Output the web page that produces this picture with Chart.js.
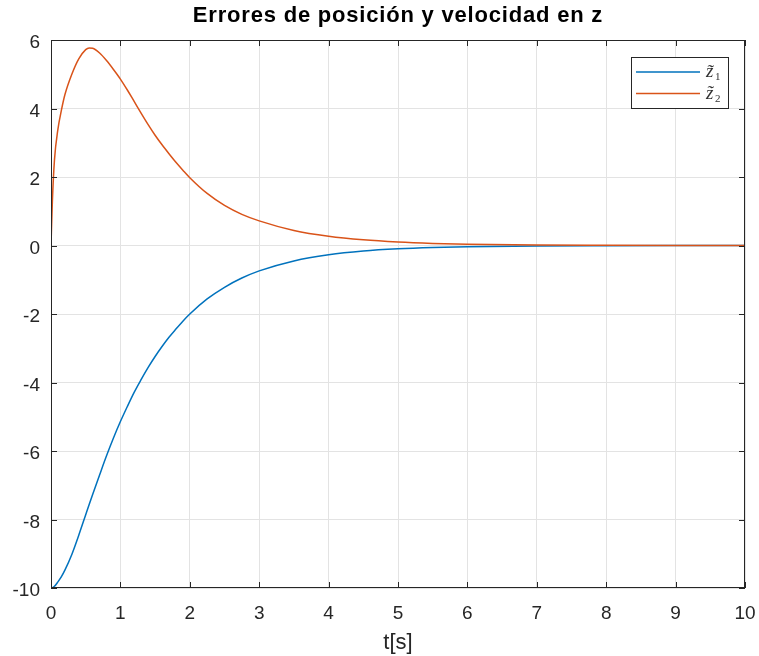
<!DOCTYPE html>
<html lang="es">
<head>
<meta charset="UTF-8">
<title>Errores de posición y velocidad en z</title>
<script src="https://cdn.jsdelivr.net/npm/chart.js"></script>
<style>
    html, body { margin: 0; padding: 0; background: #fff; }
    #wrap { width: 759px; height: 656px; }
</style>
</head>
<body>
<div id="wrap">
    <canvas id="errChart" width="759" height="656"></canvas>
</div>
<script>
// sampled simulation output
const tiempo = [0, 0.02, 0.05, 0.1, 0.15, 0.2, 0.3, 0.4, 0.5, 0.55, 0.6, 0.7, 0.8, 0.9, 1.0, 1.1, 1.2, 1.3, 1.4, 1.5,
    1.6, 1.7, 1.8, 1.9, 2.0, 2.25, 2.5, 2.75, 3, 3.5, 4, 4.5, 5, 5.5, 6, 7, 8, 9, 10];
const z1 = [-10, -9.99, -9.95, -9.82, -9.67, -9.48, -9.02, -8.46, -7.86, -7.56, -7.27, -6.70, -6.14, -5.62, -5.14, -4.70, -4.28, -3.91, -3.56, -3.24,
    -2.95, -2.68, -2.44, -2.21, -2.00, -1.56, -1.22, -0.95, -0.74, -0.45, -0.27, -0.16, -0.095, -0.056, -0.033, -0.012, -0.004, -0.0015, -0.0005];
const z2 = [0, 1.3, 2.5, 3.4, 3.95, 4.4, 5.0, 5.45, 5.72, 5.77, 5.76, 5.62, 5.40, 5.14, 4.86, 4.54, 4.20, 3.86, 3.53, 3.22,
    2.94, 2.68, 2.43, 2.20, 1.98, 1.52, 1.17, 0.91, 0.72, 0.44, 0.27, 0.165, 0.10, 0.06, 0.035, 0.013, 0.005, 0.002, 0.0007];
const xTicks = [0, 1, 2, 3, 4, 5, 6, 7, 8, 9, 10];
const yTicks = [-10, -8, -6, -4, -2, 0, 2, 4, 6];
const seriesNames = ['z\u0303', 'z\u0303'];
const seriesSubs = ['1', '2'];

const AXIS = '#262626';
const GRID = '#e3e3e3';
const SANS = '"Liberation Sans", Arial, sans-serif';

const pts = vals => tiempo.map((t, i) => ({ x: t, y: vals[i] }));

// box around the axes, inward ticks, title and legend
const matlabAxes = {
    id: 'matlabAxes',
    afterDatasetsDraw(chart) {
        const { ctx, chartArea: a, scales: { x, y } } = chart;
        ctx.save();
        ctx.strokeStyle = AXIS;
        ctx.lineWidth = 1;
        ctx.strokeRect(a.left + 0.5, a.top + 0.5, a.right - a.left - 1, a.bottom - a.top - 1);
        const tl = 6;
        ctx.beginPath();
        xTicks.forEach(v => {
            const px = Math.round(x.getPixelForValue(v)) + 0.5;
            ctx.moveTo(px, a.bottom); ctx.lineTo(px, a.bottom - tl);
            ctx.moveTo(px, a.top); ctx.lineTo(px, a.top + tl);
        });
        yTicks.forEach(v => {
            const py = Math.round(y.getPixelForValue(v)) + 0.5;
            ctx.moveTo(a.left, py); ctx.lineTo(a.left + tl, py);
            ctx.moveTo(a.right, py); ctx.lineTo(a.right - tl, py);
        });
        ctx.stroke();

        // title
        ctx.fillStyle = '#000';
        ctx.font = 'bold 22px ' + SANS;
        ctx.letterSpacing = '0.8px';
        ctx.textAlign = 'center';
        ctx.textBaseline = 'middle';
        ctx.fillText('Errores de posición y velocidad en z', (a.left + a.right) / 2, 16);
        ctx.letterSpacing = '0px';

        // legend
        const lx = 631, ly = 57, lw = 97, lh = 51;
        ctx.fillStyle = '#fff';
        ctx.fillRect(lx, ly, lw, lh);
        ctx.strokeStyle = AXIS;
        ctx.strokeRect(lx + 0.5, ly + 0.5, lw, lh);
        ctx.textBaseline = 'alphabetic';
        ctx.textAlign = 'left';
        chart.data.datasets.forEach((ds, i) => {
            const yy = ly + 15 + i * 21.5;
            ctx.strokeStyle = ds.borderColor;
            ctx.lineWidth = 1.5;
            ctx.beginPath();
            ctx.moveTo(lx + 5, yy); ctx.lineTo(lx + 69, yy);
            ctx.stroke();
            ctx.fillStyle = '#333';
            ctx.font = 'italic 19px "Liberation Serif", "DejaVu Serif", serif';
            ctx.fillText(seriesNames[i], lx + 75, yy + 5);
            ctx.font = '11px "Liberation Serif", "DejaVu Serif", serif';
            ctx.fillText(seriesSubs[i], lx + 84, yy + 8);
        });
        ctx.restore();
    }
};

new Chart(document.getElementById('errChart'), {
    type: 'line',
    data: {
        datasets: [
            { label: 'z1', data: pts(z1), borderColor: '#0072BD', borderWidth: 1.5, order: 1 },
            { label: 'z2', data: pts(z2), borderColor: '#D95319', borderWidth: 1.5, order: 0 }
        ]
    },
    options: {
        responsive: false,
        animation: false,
        devicePixelRatio: 1,
        layout: { padding: { top: 40, right: 14, left: 0, bottom: 0 } },
        elements: {
            point: { radius: 0 },
            line: { cubicInterpolationMode: 'monotone', fill: false }
        },
        plugins: {
            legend: { display: false },
            title: { display: false },
            tooltip: { enabled: false }
        },
        scales: {
            x: {
                type: 'linear',
                min: 0, max: 10,
                afterFit: s => { s.height = 68; s.paddingLeft = 0; s.paddingRight = 0; },
                afterBuildTicks: s => { s.ticks = xTicks.map(v => ({ value: v })); },
                grid: { color: GRID, drawTicks: false },
                border: { display: false },
                ticks: {
                    color: AXIS, padding: 14, maxRotation: 0,
                    font: { family: SANS, size: 19 }
                },
                title: {
                    display: true, text: 't[s]', color: AXIS,
                    font: { family: SANS, size: 22 },
                    padding: { top: 0, bottom: 0 }
                }
            },
            y: {
                type: 'linear',
                min: -10, max: 6,
                afterFit: s => { s.width = 51; s.paddingTop = 0; s.paddingBottom = 0; },
                afterBuildTicks: s => { s.ticks = yTicks.map(v => ({ value: v })); },
                grid: { color: GRID, drawTicks: false },
                border: { display: false },
                ticks: {
                    color: AXIS, padding: 11, labelOffset: 3,
                    font: { family: SANS, size: 19 }
                }
            }
        }
    },
    plugins: [matlabAxes]
});
</script>
</body>
</html>
